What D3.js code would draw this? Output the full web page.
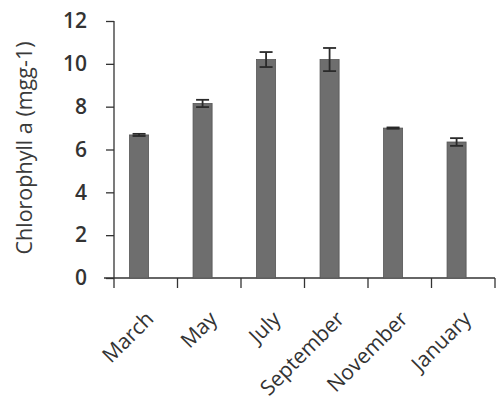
<!DOCTYPE html>
<html>
<head>
<meta charset="utf-8">
<script src="https://cdn.jsdelivr.net/npm/d3@7"></script>
<style>
  html, body { margin: 0; padding: 0; background: #fff; }
  svg { display: block; }
</style>
</head>
<body>
<svg id="chart" width="499" height="408"></svg>
<script>
// Monthly chlorophyll a content with standard error
const months = ["March", "May", "July", "September", "November", "January"];
const chlorophyll = [6.68, 8.15, 10.2, 10.2, 7.0, 6.35];
const errors = [0.05, 0.17, 0.35, 0.54, 0.03, 0.18];
const yTicks = [0, 2, 4, 6, 8, 10, 12];
const yTitle = "Chlorophyll a (mgg-1)";

const svg = d3.select("#chart");
const font = "'Open Sans', 'Noto Sans', sans-serif";
const ink = "#333";

const x = d3.scaleBand().domain(months).range([114, 495]);
const y = d3.scaleLinear().domain([0, 12]).range([278, 21]);

// bars sit slightly left of the category centre
const barOffset = x.bandwidth() * 0.245;
const barWidth = x.bandwidth() * 0.3;
const barCenter = m => x(m) + barOffset + barWidth / 2;

// axes
const yAxis = svg.append("g")
  .attr("transform", "translate(114,0)")
  .call(d3.axisLeft(y).tickValues(yTicks).tickSize(8).tickPadding(19).tickFormat(d3.format("d")));
const xAxis = svg.append("g")
  .attr("transform", "translate(0,278)")
  .call(d3.axisBottom(x).tickSize(0).tickFormat(""));
// category boundary ticks
xAxis.selectAll(".bound")
  .data(d3.range(months.length + 1))
  .join("line")
  .attr("class", "bound")
  .attr("x1", i => 114 + i * x.step())
  .attr("x2", i => 114 + i * x.step())
  .attr("y1", 0).attr("y2", 10)
  .attr("stroke", ink).attr("stroke-width", 1.3);

[yAxis, xAxis].forEach(g => {
  g.select(".domain").attr("stroke", ink).attr("stroke-width", 1.3);
  g.selectAll(".tick line").attr("stroke", ink).attr("stroke-width", 1.3);
});
yAxis.select(".domain").attr("d", "M0,21V278");
xAxis.select(".domain").attr("d", "M104,0H495");
yAxis.selectAll(".tick text")
  .attr("font-family", font).attr("font-size", 21).attr("font-weight", 600).attr("fill", ink);

// bars
svg.append("g").selectAll("rect")
  .data(months)
  .join("rect")
  .attr("x", m => x(m) + barOffset)
  .attr("y", (m, i) => y(chlorophyll[i]))
  .attr("width", barWidth)
  .attr("height", (m, i) => y(0) - y(chlorophyll[i]))
  .attr("fill", "#6e6e6e")
  .attr("stroke", "#555")
  .attr("stroke-width", 0.8);

// error bars
const eb = svg.append("g").attr("stroke", "#2a2a2a").attr("stroke-width", 1.8);
months.forEach((m, i) => {
  const cx = barCenter(m);
  const hi = y(chlorophyll[i] + errors[i]);
  const lo = y(chlorophyll[i] - errors[i]);
  eb.append("line").attr("x1", cx).attr("x2", cx).attr("y1", hi).attr("y2", lo);
  eb.append("line").attr("x1", cx - 6.5).attr("x2", cx + 6.5).attr("y1", hi).attr("y2", hi);
  eb.append("line").attr("x1", cx - 6.5).attr("x2", cx + 6.5).attr("y1", lo).attr("y2", lo);
});

// rotated month labels
svg.append("g").selectAll("text")
  .data(months)
  .join("text")
  .attr("transform", m => `translate(${x(m) + x.bandwidth() / 2 + 4},${315}) rotate(-45)`)
  .attr("text-anchor", "end")
  .attr("dy", "0.35em")
  .attr("font-family", font).attr("font-size", 21).attr("fill", ink)
  .text(m => m);

// y axis title
svg.append("text")
  .attr("transform", "translate(32,148) rotate(-90)")
  .attr("text-anchor", "middle")
  .attr("font-family", font).attr("font-size", 21.5).attr("fill", "#3a3a3a")
  .text(yTitle);
</script>
</body>
</html>
